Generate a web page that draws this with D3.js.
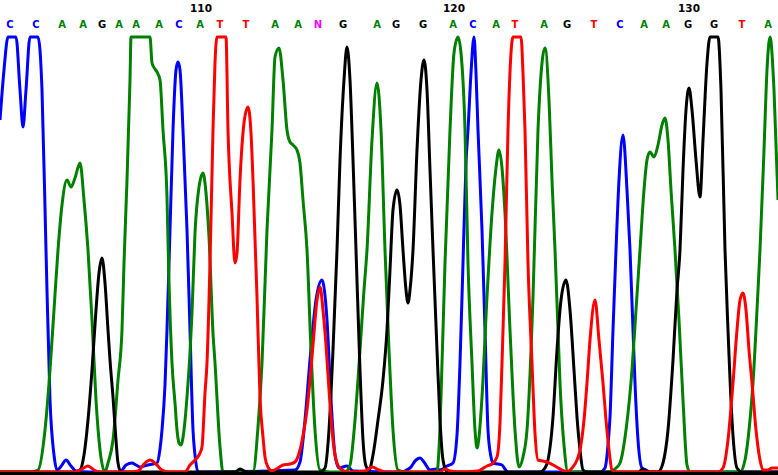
<!DOCTYPE html>
<html><head><meta charset="utf-8">
<script src="https://cdn.jsdelivr.net/npm/d3@7"></script>
<style>body{margin:0;background:#fff;overflow:hidden} svg{display:block}</style>
</head><body><svg id="c" width="778" height="475"></svg>
<script>
// Base calls and their scan positions
const baseCalls = "CCAAGAAACATTAANGAGGACATAGTCAAGGTA".split("");
const basePositions = [10,36,62,83,102,119,136,159,179,200,220,246,275,298,318,343,377,396,423,453,473,496,515,544,567,594,620,644,666,688,714,742,768];
const firstBaseNumber = 101;
const tickLabels = ["110","120","130"];

// Trace samples: [scan, signal]
const traceC = [[0,1765],[4,2015],[8,2300],[16,2300],[20,1915],[23,1730],[26,1915],[30,2300],[38,2300],[42,1915],[46,1115],[50,365],[54,90],[57,15],[62,40],[66,65],[71,35],[76,10],[90,5],[110,5],[120,5],[126,40],[132,50],[136,40],[140,30],[144,35],[148,40],[153,45],[157,50],[160,120],[162,215],[165,440],[167,715],[170,1215],[173,1715],[176,2015],[178,2055],[180,2015],[183,1715],[187,1215],[190,715],[193,215],[195,90],[198,5],[205,5],[295,15],[300,55],[305,265],[310,565],[316,865],[322,965],[327,765],[331,365],[335,90],[339,25],[347,35],[353,10],[400,5],[410,25],[416,65],[420,75],[424,55],[430,15],[436,20],[440,15],[447,35],[453,50],[457,190],[460,550],[463,1050],[466,1550],[468,1715],[471,2000],[474,2180],[476,2000],[478,1715],[482,1215],[485,715],[488,215],[491,80],[493,50],[498,45],[502,40],[505,20],[508,5],[600,5],[605,25],[608,140],[610,280],[613,715],[616,1115],[619,1465],[623,1690],[627,1415],[630,1115],[633,715],[635,450],[638,165],[642,25],[646,15],[650,5],[778,5]];

const traceA = [[0,5],[30,5],[38,15],[45,215],[50,515],[54,815],[58,1115],[62,1340],[67,1465],[71,1430],[75,1475],[80,1550],[84,1365],[88,1115],[92,765],[96,365],[100,115],[105,5],[108,50],[113,165],[118,465],[122,715],[124,1050],[127,1465],[128.5,1715],[130,1965],[131,2180],[132,2300],[148,2300],[150,2180],[152,2050],[155,2020],[157,2005],[160,1965],[163,1715],[167,1380],[168.5,1050],[172,550],[175,350],[177,215],[179,150],[181,140],[184,215],[187,380],[190,600],[192,800],[195,1200],[199,1430],[203,1500],[206,1400],[209,1180],[213,700],[215,550],[220,130],[223,5],[250,5],[253,5],[258,230],[262,550],[267,1215],[272,1715],[275,2080],[279,2125],[283,1965],[287,1715],[290,1655],[293,1640],[297,1615],[300,1550],[303,1365],[307,1115],[311,615],[315,215],[320,15],[330,5],[345,5],[350,40],[355,265],[360,615],[364,915],[367,1115],[372,1665],[377,1950],[381,1715],[385,1115],[389,615],[393,215],[398,15],[405,5],[437,5],[439,120],[441,380],[445,1050],[450,1715],[454,2100],[458,2180],[461,2100],[465,1715],[468,1050],[472,550],[475,215],[477,125],[479,180],[482,380],[487,880],[492,1300],[496,1525],[499,1615],[502,1525],[505,1300],[510,715],[515,215],[519,30],[523,80],[527,215],[533,880],[538,1715],[542,2050],[545,2125],[549,1865],[552,1465],[555,1115],[558,715],[560,450],[564,140],[568,5],[610,5],[616,25],[620,50],[626,215],[632,515],[636,815],[640,1115],[644,1415],[647,1565],[650,1605],[654,1580],[658,1640],[662,1740],[665,1775],[668,1665],[671,1415],[675,1115],[679,765],[683,365],[687,40],[690,5],[740,5],[745,65],[750,265],[753,450],[757,815],[760,1115],[764,1615],[767,2015],[770,2180],[774,1915],[778,1365]];

const traceG = [[0,5],[75,5],[80,15],[84,90],[88,265],[92,515],[96,815],[99,1000],[102,1075],[105,950],[108,715],[110,565],[113,380],[116,165],[118,50],[121,5],[235,5],[240,20],[244,10],[248,5],[320,5],[325,25],[329,215],[333,615],[337,1115],[340,1565],[344,1965],[347,2130],[350,1965],[353,1565],[356,1115],[360,515],[363,165],[366,35],[369,15],[373,90],[378,265],[383,465],[387,715],[390,1015],[393,1315],[397,1415],[400,1340],[403,1115],[406,915],[408,850],[410,915],[413,1115],[417,1615],[421,1965],[424,2065],[427,1915],[430,1515],[433,1115],[437,615],[440,265],[443,65],[447,5],[540,5],[545,25],[548,65],[553,280],[557,615],[561,865],[566,965],[570,815],[574,515],[577,280],[580,115],[583,15],[587,5],[638,5],[643,20],[647,5],[658,5],[663,50],[668,215],[673,565],[677,915],[680,1115],[683,1515],[686,1815],[689,1925],[692,1815],[696,1565],[700,1380],[703,1665],[707,2050],[710,2300],[718,2300],[721,1915],[725,1115],[728,715],[732,265],[737,25],[742,5],[778,5]];

const traceT = [[0,5],[75,5],[82,20],[88,35],[94,15],[100,5],[130,5],[138,10],[144,45],[150,65],[156,45],[162,15],[170,5],[185,5],[190,40],[195,65],[199,90],[202,130],[205,400],[207,550],[210,1050],[213,1715],[215,2050],[217,2180],[218,2300],[225,2300],[226,2180],[228,1715],[232,1300],[235,1050],[237,1100],[240,1465],[244,1750],[248,1830],[251,1700],[253,1465],[257,880],[260,380],[263,180],[265,80],[268,30],[272,10],[278,25],[283,40],[290,45],[295,55],[300,115],[304,215],[307,315],[310,465],[313,640],[317,865],[320,930],[323,815],[326,640],[329,415],[333,165],[337,50],[342,15],[350,5],[365,10],[372,30],[379,15],[385,5],[440,5],[445,20],[450,10],[460,5],[478,10],[482,20],[487,35],[492,45],[497,80],[500,250],[502,550],[505,1050],[508,1715],[511,2100],[513,2180],[514,2300],[519,2300],[521,2180],[523,2000],[525,1715],[528,1050],[532,550],[535,200],[538,65],[543,60],[547,55],[555,35],[562,15],[567,5],[572,25],[577,65],[580,115],[584,265],[587,450],[590,665],[595,865],[599,665],[603,450],[606,265],[609,115],[612,15],[616,5],[718,5],[723,25],[728,165],[733,450],[737,715],[740,865],[743,900],[746,815],[749,615],[752,450],[756,215],[760,65],[763,15],[768,15],[772,25],[778,25]];

const channels = [
  {name:"C", data:traceC, color:"#0000ff"},
  {name:"A", data:traceA, color:"#008000"},
  {name:"G", data:traceG, color:"#000000"},
  {name:"T", data:traceT, color:"#ff0000"}
];
const baseColors = {A:"#008000", C:"#0000ff", G:"#000000", T:"#ff0000", N:"#ff00ff"};

const W = 778, H = 475;
const svg = d3.select("#c");
const x = d3.scaleLinear().domain([0, 778]).range([0, W]);
const y = d3.scaleLinear().domain([0, 2180]).range([473, 37]).clamp(true);

const line = d3.line().x(d => x(d[0])).y(d => y(d[1])).curve(d3.curveMonotoneX);

svg.append("g").selectAll("path").data(channels).join("path")
  .attr("d", d => line(d.data))
  .attr("fill", "none")
  .attr("stroke", d => d.color)
  .attr("stroke-width", 3)
  .attr("stroke-linejoin", "round");

// baseline
svg.append("line").attr("x1", x(0)).attr("x2", x(778)).attr("y1", 473.5).attr("y2", 473.5)
  .attr("stroke", "#000").attr("stroke-width", 3);

// base calls
svg.append("g").selectAll("text").data(baseCalls).join("text")
  .attr("x", (d, i) => x(basePositions[i]))
  .attr("y", 28)
  .attr("text-anchor", "middle")
  .attr("font-family", "DejaVu Sans, sans-serif")
  .attr("font-weight", "bold")
  .attr("font-size", 10)
  .attr("fill", d => baseColors[d])
  .text(d => d);

// numbered ticks
svg.append("g").selectAll("text").data(tickLabels).join("text")
  .attr("x", d => x(basePositions[+d - firstBaseNumber]) + 1)
  .attr("y", 12)
  .attr("text-anchor", "middle")
  .attr("font-family", "DejaVu Sans, sans-serif")
  .attr("font-weight", "bold")
  .attr("font-size", 10.5)
  .attr("fill", "#000")
  .text(d => d);
</script>
</body></html>
